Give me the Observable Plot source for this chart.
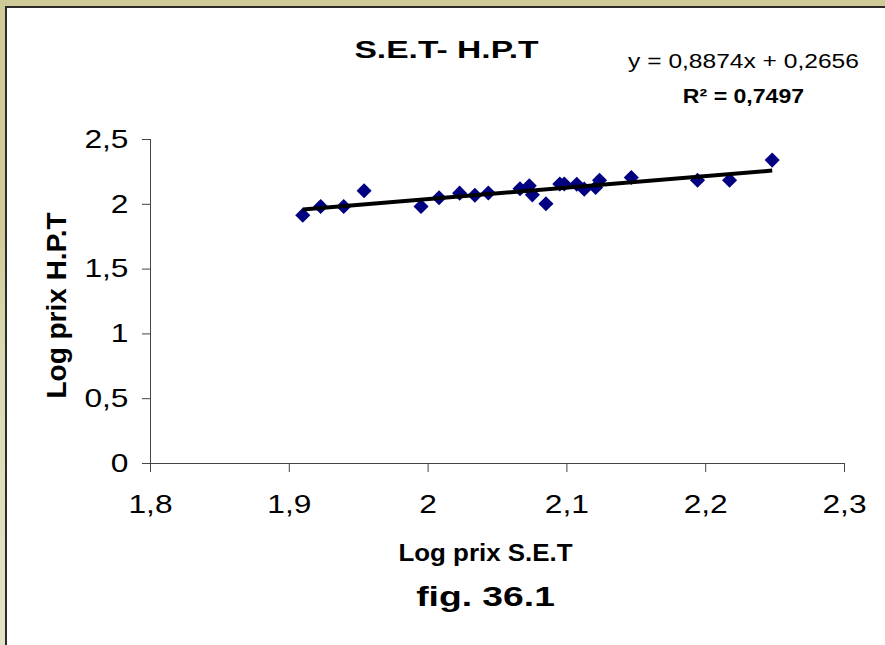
<!DOCTYPE html>
<html>
<head>
<meta charset="utf-8">
<script src="https://cdn.jsdelivr.net/npm/d3@7"></script>
<script src="https://cdn.jsdelivr.net/npm/@observablehq/plot@0.6"></script>
<style>
  html, body { margin: 0; padding: 0; width: 885px; height: 645px; overflow: hidden; }
  body { background: linear-gradient(to bottom, #cfcb98 0%, #cfcb98 35%, #dcd9b2 55%, #e3e2c6 100%); }
  #sheet { position: absolute; left: 5px; top: 6px; width: 880px; height: 639px; box-sizing: border-box;
           background: #fff; border-left: 2px solid #2b2b2b; border-top: 2px solid #2b2b2b; }
  #chart { position: absolute; left: 0; top: 0; }
</style>
</head>
<body>
<div id="sheet"></div>
<div id="chart"></div>
<script>
// Log prices: S.E.T (x) against H.P.T (y)
const logSET = [1.9097, 1.9226, 1.9392, 1.9539, 1.9949, 2.0079, 2.0227, 2.0337, 2.0434, 2.0662, 2.0729, 2.0751,
                2.0849, 2.0949, 2.0981, 2.1071, 2.1125, 2.1207, 2.1235, 2.1464, 2.1941, 2.2172, 2.2479];
const logHPT = [1.916, 1.983, 1.983, 2.104, 1.983, 2.050, 2.086, 2.070, 2.087, 2.120, 2.143, 2.073,
                2.004, 2.157, 2.157, 2.155, 2.117, 2.130, 2.186, 2.207, 2.186, 2.186, 2.341];

// Linear fit as reported on the chart
const slope = 0.8874;
const intercept = 0.2656;
const rSquared = 0.7497;

const xTicks = [1.8, 1.9, 2, 2.1, 2.2, 2.3];
const yTicks = [0, 0.5, 1, 1.5, 2, 2.5];
const xDomain = [1.8, 2.3];
const yDomain = [0, 2.5];

const chartTitle = "S.E.T- H.P.T";
const xLabel = "Log prix S.E.T";
const yLabel = "Log prix H.P.T";
const figLabel = "fig. 36.1";

const comma = (v, digits) => (digits == null ? String(v) : v.toFixed(digits)).replace(".", ",");
const equationText = `y = ${comma(slope, 4)}x + ${comma(intercept, 4)}`;
const r2Text = `R² = ${comma(rSquared, 4)}`;

const points = logSET.map((x, i) => ({x, y: logHPT[i]}));
const trend = d3.extent(logSET).map(x => ({x, y: slope * x + intercept}));

const W = 885, H = 645;
const M = {top: 139, right: 41, bottom: 182, left: 150};
const font = "'Liberation Sans', Arial, Helvetica, sans-serif";

// Place a label at page coordinates relative to the plot frame's top-left corner
const at = (px, py) => ({frameAnchor: "top-left", dx: px - M.left, dy: py - M.top});

const plot = Plot.plot({
  width: W,
  height: H,
  marginTop: M.top,
  marginRight: M.right,
  marginBottom: M.bottom,
  marginLeft: M.left,
  style: {fontFamily: font, background: "transparent", overflow: "visible"},
  x: {domain: xDomain},
  y: {domain: yDomain},
  marks: [
    Plot.ruleX([xDomain[0]], {y1: yDomain[0], y2: yDomain[1], stroke: "#444"}),
    Plot.ruleY([yDomain[0]], {x1: xDomain[0], x2: xDomain[1], stroke: "#444"}),
    Plot.axisX({ticks: xTicks, tickSize: 9, tickPadding: 22, fontSize: 26, stroke: "#444", fill: "#000",
                tickFormat: d => comma(d), label: null}),
    Plot.axisY({ticks: yTicks, tickSize: 8, tickPadding: 14, fontSize: 26, stroke: "#444", fill: "#000",
                tickFormat: d => comma(d), label: null}),
    Plot.dot(points, {x: "x", y: "y", symbol: "diamond2", r: 6.8, fill: "#000080", stroke: null}),
    Plot.line(trend, {x: "x", y: "y", stroke: "#000", strokeWidth: 4, strokeLinecap: "butt"}),
    Plot.text([chartTitle], {...at(446, 57), text: d => d, fontSize: 24, fontWeight: "bold", lineAnchor: "bottom",
                textAnchor: "middle", fill: "#000"}),
    Plot.text([equationText], {...at(743, 67), text: d => d, fontSize: 21, lineAnchor: "bottom",
                textAnchor: "middle", fill: "#000"}),
    Plot.text([r2Text], {...at(743, 102), text: d => d, fontSize: 21, fontWeight: "bold", lineAnchor: "bottom",
                textAnchor: "middle", fill: "#000"}),
    Plot.text([xLabel], {...at(485, 560), text: d => d, fontSize: 24, fontWeight: "bold", lineAnchor: "bottom",
                textAnchor: "middle", fill: "#000"}),
    Plot.text([figLabel], {...at(485, 605), text: d => d, fontSize: 27, fontWeight: "bold", lineAnchor: "bottom",
                textAnchor: "middle", fill: "#000"}),
    Plot.text([yLabel], {...at(65, 305), text: d => d, fontSize: 28, fontWeight: "bold", lineAnchor: "bottom",
                textAnchor: "middle", rotate: -90, fill: "#000"})
  ]
});

// Horizontal widening of the rendered type, about each label's own anchor
function widenText(t, s) {
  const tr = t.getAttribute("transform");
  if (tr) {
    t.setAttribute("transform", `${tr} scale(${s},1)`);
  } else {
    const x = +(t.getAttribute("x") || 0);
    t.setAttribute("transform", `translate(${x},0) scale(${s},1) translate(${-x},0)`);
  }
}
const widenByText = new Map([
  [chartTitle, 1.4], [equationText, 1.17], [r2Text, 1.1], [xLabel, 1.08], [figLabel, 1.38]
]);
const tickLabels = new Set([...xTicks, ...yTicks].map(d => comma(d)));
plot.querySelectorAll("text").forEach(t => {
  const s = t.textContent;
  if (widenByText.has(s)) widenText(t, widenByText.get(s));
  else if (tickLabels.has(s)) widenText(t, 1.22);
});

document.getElementById("chart").appendChild(plot);
</script>
</body>
</html>
